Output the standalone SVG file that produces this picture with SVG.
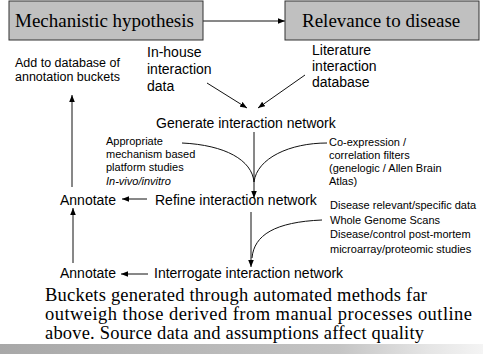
<svg xmlns="http://www.w3.org/2000/svg" width="483" height="354" viewBox="0 0 483 354">
<style>
.box{fill:#c0c0c0;stroke:#333;stroke-width:1}
.serif{font-family:"Liberation Serif","Times New Roman",serif;fill:#000}
.sans{font-family:"Liberation Sans",Arial,sans-serif;fill:#000}
.big{font-size:19px}
.body{font-size:18.5px}
.main{font-size:14px}
.mid{font-size:14px}
.sm{font-size:11px}
.add{font-size:12.5px}
.ln{fill:none;stroke:#111;stroke-width:1}
</style>
<defs>
<marker id="ah" viewBox="0 0 10 10" refX="10" refY="5" markerWidth="7" markerHeight="7" markerUnits="userSpaceOnUse" orient="auto">
<path d="M0,1 L10,5 L0,9 z" fill="#000"/>
</marker>
<linearGradient id="band" x1="0" y1="0" x2="1" y2="0">
<stop offset="0" stop-color="#a8a8a8"/>
<stop offset="0.7" stop-color="#c4c4c4"/>
<stop offset="0.88" stop-color="#e4e4e4"/>
<stop offset="1" stop-color="#f4f4f4"/>
</linearGradient>
</defs>
<rect x="0" y="0" width="483" height="354" fill="#fff"/>
<rect x="0" y="344" width="483" height="10" fill="url(#band)"/>

<g id="connectors">
<line class="ln" x1="203" y1="21" x2="285" y2="21" marker-end="url(#ah)"/>
<line class="ln" x1="207" y1="83" x2="247" y2="108" marker-end="url(#ah)"/>
<line class="ln" x1="305" y1="75" x2="258" y2="108" marker-end="url(#ah)"/>
<line class="ln" x1="254" y1="132" x2="254" y2="198" marker-end="url(#ah)"/>
<path class="ln" d="M182,143 C225,145 252,160 254,182"/>
<path class="ln" d="M327,143 C290,143 257,158 254,182"/>
<line class="ln" x1="251" y1="212" x2="251" y2="267" marker-end="url(#ah)"/>
<path class="ln" d="M322,220 C275,222 254,235 252,258"/>
<line class="ln" x1="147" y1="199" x2="122" y2="199" marker-end="url(#ah)"/>
<line class="ln" x1="148" y1="274" x2="121" y2="274" marker-end="url(#ah)"/>
<line class="ln" x1="72" y1="187" x2="72" y2="95" marker-end="url(#ah)"/>
<line class="ln" x1="73" y1="263" x2="73" y2="208" marker-end="url(#ah)"/>
</g>

<g id="mechanistic">
<rect class="box" x="9" y="1" width="194" height="39"/>
<text class="serif big" x="15" y="27">Mechanistic hypothesis</text>
</g>
<g id="relevance">
<rect class="box" x="285" y="1" width="194" height="39"/>
<text class="serif big" x="302" y="27">Relevance to disease</text>
</g>
<g id="add-db">
<text class="sans add" x="15" y="67">Add to database of</text>
<text class="sans add" x="15" y="81">annotation buckets</text>
</g>
<g id="inhouse">
<text class="sans mid" x="147" y="57">In-house</text>
<text class="sans mid" x="147" y="74">interaction</text>
<text class="sans mid" x="147" y="91">data</text>
</g>
<g id="literature">
<text class="sans mid" x="312" y="55">Literature</text>
<text class="sans mid" x="312" y="71">interaction</text>
<text class="sans mid" x="312" y="87">database</text>
</g>
<g id="generate">
<text class="sans main" x="156" y="128">Generate interaction network</text>
</g>
<g id="appropriate">
<text class="sans sm" x="106" y="145">Appropriate</text>
<text class="sans sm" x="106" y="158">mechanism based</text>
<text class="sans sm" x="106" y="171">platform studies</text>
<text class="sans sm" x="106" y="185" font-style="italic">In-vivo/invitro</text>
</g>
<g id="coexpression">
<text class="sans sm" x="329" y="146">Co-expression /</text>
<text class="sans sm" x="329" y="159">correlation filters</text>
<text class="sans sm" x="329" y="172">(genelogic / Allen Brain</text>
<text class="sans sm" x="329" y="185">Atlas)</text>
</g>
<g id="refine">
<text class="sans main" x="155" y="205">Refine interaction network</text>
</g>
<g id="annotate1">
<text class="sans main" x="60" y="205">Annotate</text>
</g>
<g id="disease">
<text class="sans sm" x="330" y="209">Disease relevant/specific data</text>
<text class="sans sm" x="330" y="223.5">Whole Genome Scans</text>
<text class="sans sm" x="330" y="238">Disease/control post-mortem</text>
<text class="sans sm" x="330" y="252.5">microarray/proteomic studies</text>
</g>
<g id="interrogate">
<text class="sans main" x="154" y="278">Interrogate interaction network</text>
</g>
<g id="annotate2">
<text class="sans main" x="60" y="278" font-size="13.5">Annotate</text>
</g>
<g id="note">
<text class="serif body"><tspan x="45" y="300.5" textLength="382">Buckets generated through automated methods far</tspan><tspan x="45" y="319.5" textLength="427">outweigh those derived from manual processes outline</tspan><tspan x="45" y="338.5" textLength="379">above. Source data and assumptions affect quality</tspan></text>
</g>
</svg>
